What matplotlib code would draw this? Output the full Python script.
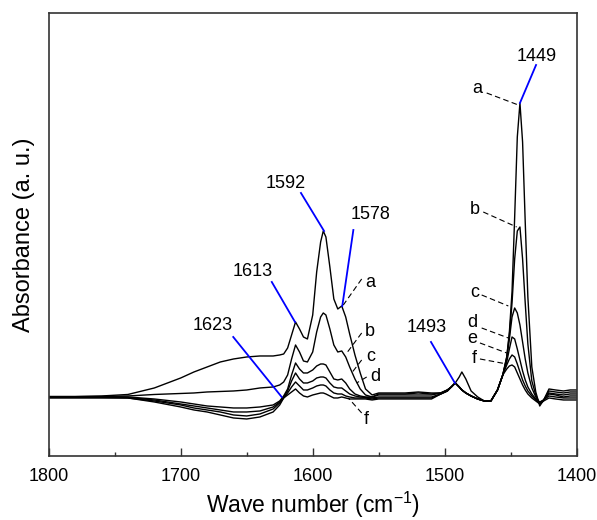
import numpy as np
import matplotlib
matplotlib.use('Agg')
import matplotlib.pyplot as plt

plt.rcParams['font.family'] = ['Liberation Sans', 'DejaVu Sans']
plt.rcParams['mathtext.default'] = 'regular'

# wavenumber grid (cm-1)
wn = [1800, 1780, 1760, 1740, 1720, 1700, 1690, 1680, 1670, 1660,
      1650, 1640, 1630, 1625, 1622, 1619, 1616, 1613, 1610, 1607,
      1604, 1600, 1597, 1594, 1592, 1590, 1587, 1584, 1581, 1578,
      1575, 1572, 1568, 1564, 1560, 1555, 1550, 1540, 1530, 1520,
      1510, 1503, 1498, 1495, 1492, 1489, 1487, 1484, 1480, 1475,
      1470, 1465, 1460, 1456, 1453, 1451, 1449, 1447, 1445, 1443,
      1441, 1439, 1437, 1434, 1431, 1428, 1425, 1421, 1416, 1410,
      1405, 1400]

# absorbance (a.u. x100)
spec_a = [0.5, 0.5, 1, 2.5, 9, 19, 25, 30, 35, 38,
          40, 41, 41, 42, 43, 49, 62, 75, 68, 60,
          58, 82, 125, 155, 166, 160, 130, 98, 88, 91,
          80, 63, 42, 24, 8, 2, 4, 4, 4, 5,
          4, 4, 7, 10, 14, 20, 25, 18, 6, 0,
          -4, -4, 7, 22, 40, 65, 105, 180, 260, 294,
          255, 175, 100, 30, 5, -9, -3, 8, 7, 6,
          7, 7]
spec_b = [0.3, 0.3, 0.5, 1, 2.5, 3.5, 4, 5, 5.5, 6,
          7, 9, 10, 12, 15, 22, 38, 52, 45, 36,
          35, 45, 65, 80, 84, 82, 68, 52, 45, 46,
          40, 30, 18, 8, 2, 0, 3, 3, 3, 4,
          3, 4, 7, 10, 14, 10, 7, 4, 1, -2,
          -4, -4, 7, 22, 40, 62, 94, 138, 166, 170,
          138, 94, 53, 16, 2, -7, -3, 6, 5, 4,
          5, 5]
spec_c = [0, 0, 0, 0, -2, -5, -7, -9, -10, -11,
          -11, -10, -8, -4, 1, 8, 22, 34, 28, 24,
          24, 27, 31, 33, 33, 32, 25, 18, 17, 18,
          14, 8, 3, 1, 0, 0, 2, 2, 2, 2,
          2, 4, 7, 10, 14, 10, 7, 4, 1, -2,
          -4, -4, 7, 22, 38, 58, 80, 89, 84, 72,
          55, 38, 24, 9, 0, -6, -3, 4, 3, 2,
          3, 3]
spec_d = [0, 0, 0, -0.5, -3, -7, -9, -11, -13, -15,
          -15, -14, -10, -5, 0, 6, 16, 24, 18, 14,
          14, 16, 19, 20, 20, 19, 14, 10, 9, 9,
          6, 3, 1, 0, -0.5, -1, 0, 0, 0, 0,
          0, 3, 6, 10, 14, 10, 7, 4, 1, -2,
          -4, -4, 7, 22, 35, 48, 60, 58, 48, 37,
          26, 17, 10, 3, -2, -5, -3, 3, 2, 0,
          1, 1]
spec_e = [-0.5, -0.5, -0.5, -1, -4, -8, -11, -13, -15, -18,
          -19, -17, -12, -6, -1, 4, 10, 15, 11, 7,
          7, 9, 11, 12, 12, 11, 7, 4, 3, 3,
          1, 0, -1, -1, -1, -2, -1, -1, -1, -1,
          -1, 3, 6, 10, 14, 10, 7, 4, 1, -2,
          -4, -4, 7, 22, 32, 38, 42, 40, 33, 25,
          17, 11, 6, 1, -3, -6, -3, 1, 0, -1,
          -1, -1]
spec_f = [-1, -1, -1, -1, -5, -10, -13, -15, -18, -21,
          -22, -20, -15, -8, -1, 2, 5, 8, 4, 1,
          0, 2, 3, 4, 4, 3, 1, -1, -1, 0,
          -1, -2, -2, -2, -2, -3, -2, -2, -2, -2,
          -2, 3, 6, 10, 14, 10, 7, 4, 1, -2,
          -4, -4, 7, 22, 28, 31, 32, 30, 24, 18,
          12, 7, 3, -1, -4, -7, -4, -1, -2, -3,
          -3, -3]

spectra = [spec_a, spec_b, spec_c, spec_d, spec_e, spec_f]

# peak annotations: label, text pos, line start, line end (wn, abs x100)
peak_labels = ['1449', '1493', '1613', '1592', '1578', '1623']
peak_text = [(1430.6, 340), (1513.6, 69), (1645.2, 125), (1620.2, 213), (1555.8, 182), (1675.8, 71)]
peak_from = [(1430.8, 332), (1510.4, 55), (1631, 115), (1608.9, 204), (1569.2, 167), (1660.2, 60)]
peak_to = [(1443, 294), (1492.3, 14), (1613.4, 75), (1591.4, 166), (1577.6, 91), (1623.5, 0)]

# curve labels a-f
curve_labels = ['a', 'b', 'c', 'd', 'e', 'f', 'a', 'b', 'c', 'd', 'f']
curve_text = [(1475, 308), (1477, 187), (1477.6, 104), (1478.8, 74), (1479.1, 58), (1477.8, 38),
              (1556.6, 114), (1556.6, 65), (1555.8, 40), (1552.8, 20), (1559.1, -23)]
curve_from = [(1468.2, 304), (1470.8, 185), (1472, 102), (1472, 69), (1473.3, 54), (1473.3, 38),
              (1562.9, 118), (1562.9, 64), (1562.9, 37), (1559.1, 20), (1562.9, -16)]
curve_to = [(1444.2, 292), (1445.5, 170), (1451.8, 91), (1451.8, 59), (1453, 44), (1453, 33),
            (1576.8, 92), (1574.2, 44), (1570.5, 24), (1566.7, 14), (1573, -1)]

fig = plt.figure(figsize=(5.97, 5.20), dpi=100)
ax = fig.add_axes([0.0816, 0.1237, 0.8844, 0.8513])

for s in spectra:
    ax.plot(wn, np.array(s) / 100.0, color='black', lw=1.0)

for lab, t, p0, p1 in zip(peak_labels, peak_text, peak_from, peak_to):
    ax.plot([p0[0], p1[0]], [p0[1] / 100.0, p1[1] / 100.0], color='#0000ff', lw=1.3)
    ax.text(t[0], t[1] / 100.0, lab, fontsize=13, ha='center', va='center')

for lab, t, p0, p1 in zip(curve_labels, curve_text, curve_from, curve_to):
    ax.plot([p0[0], p1[0]], [p0[1] / 100.0, p1[1] / 100.0], color='black', lw=0.8,
            ls=(0, (5, 3)))
    ax.text(t[0], t[1] / 100.0, lab, fontsize=13, ha='center', va='center')

ax.set_xlim(1800, 1400)
ax.set_ylim(-0.587, 3.84)
ax.set_xticks([1800, 1700, 1600, 1500, 1400])
ax.set_xticks([1750, 1650, 1550, 1450], minor=True)
ax.set_yticks([])
ax.tick_params(axis='x', which='major', direction='in', length=6, width=1.0,
               labelsize=13, pad=9, color='#333333')
ax.tick_params(axis='x', which='minor', direction='in', length=3, width=1.0,
               color='#333333')
for sp in ax.spines.values():
    sp.set_color('#333333')
    sp.set_linewidth(1.2)

ax.set_xlabel('Wave number (cm$^{-1}$)', fontsize=16.5, labelpad=3)
ax.set_ylabel('Absorbance (a. u.)', fontsize=17, labelpad=10)

fig.savefig('out.png', dpi=100)
